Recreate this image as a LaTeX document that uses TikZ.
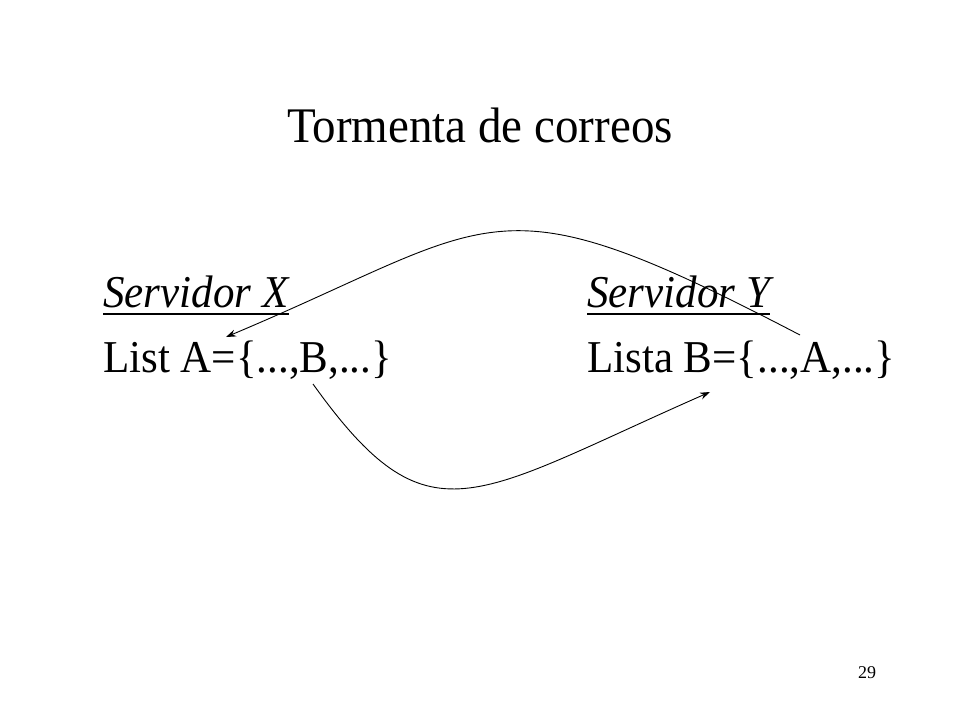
\documentclass[tikz,border=0pt]{standalone}
\usepackage{fontspec}
\usepackage{graphicx}
\setmainfont{Liberation Serif}
\usetikzlibrary{arrows.meta}
\newcommand\talltext[1]{\scalebox{1}[1.06]{#1}}
\tikzset{
  titletext/.style={inner sep=0pt, anchor=base, font=\fontsize{47}{54}\selectfont},
  bodytext/.style={inner sep=0pt, anchor=base west, font=\fontsize{43}{50}\selectfont},
  headtext/.style={bodytext, font=\fontsize{43}{50}\selectfont\itshape},
  pagenum/.style={inner sep=0pt, anchor=base west, font=\fontsize{18}{20}\selectfont},
  uline/.style={line width=1.8pt},
  link/.style={line width=0.9pt, -{Stealth[length=10pt,width=7pt]}}
}
\begin{document}
\begin{tikzpicture}[x=1pt,y=-1pt]
\useasboundingbox (0,0) rectangle (960,720);
\node[titletext] (title) at (480,142) {\talltext{Tormenta de correos}};
\node[headtext] (sx) at (103,307) {\talltext{Servidor X}};
\node[headtext] (sy) at (587,307) {\talltext{Servidor Y}};
\node[bodytext] (la) at (103,372) {\talltext{List A=\{...,B,...\}}};
\node[bodytext] (lb) at (587,372) {\talltext{Lista B=\{...,A,...\}}};
\node[pagenum] (pn) at (858,678) {29};
\draw[uline] ([yshift=-7pt]sx.base west) -- ([yshift=-7pt]sx.base east);
\draw[uline] ([yshift=-7pt]sy.base west) -- ([yshift=-7pt]sy.base east);
\coordinate (aFrom) at (800,335);
\coordinate (aTo) at (226,337);
\coordinate (bFrom) at (313,384);
\coordinate (bTo) at (710,392);
\draw[link] (aFrom) .. controls (489,173) and (502,221) .. (aTo);
\draw[link] (bFrom) .. controls (429,546) and (471,497) .. (bTo);
\end{tikzpicture}
\end{document}
